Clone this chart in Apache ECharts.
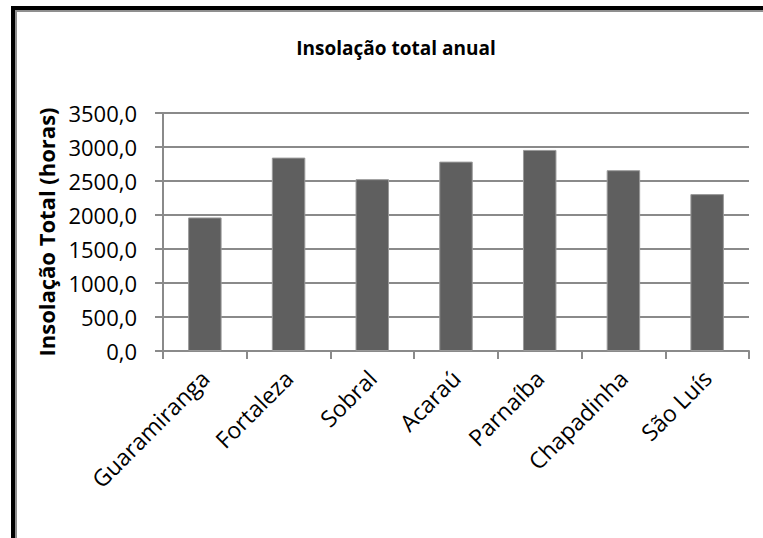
<!DOCTYPE html>
<html>
<head>
<meta charset="utf-8">
<title>Insolação total anual</title>
<script src="https://cdn.jsdelivr.net/npm/echarts@6/dist/echarts.min.js"></script>
<style>
  html, body { margin: 0; padding: 0; background: #ffffff; }
  #chart { width: 763px; height: 538px; }
</style>
</head>
<body>
<div id="chart"></div>
<script>
// Annual sunshine totals (hours) per station
const stations = ['Guaramiranga', 'Fortaleza', 'Sobral', 'Acaraú', 'Parnaíba', 'Chapadinha', 'São Luís'];
const sunshineHours = [1964, 2844, 2527, 2785, 2957, 2659, 2307];

// Value-axis ticks: 0,0 … 3500,0 every 500
const yMin = 0;
const yMax = 3500;
const yStep = 500;

const titleText = 'Insolação total anual';
const yAxisTitle = 'Insolação Total (horas)';

const FONT = '"Open Sans", "Noto Sans", sans-serif';
const GRID_GREY = '#8a8a8a';

const chart = echarts.init(document.getElementById('chart'), null, { renderer: 'svg' });

chart.setOption({
  backgroundColor: '#ffffff',
  animation: false,
  title: {
    text: titleText,
    left: 391,
    textAlign: 'center',
    top: 33,
    textStyle: { fontFamily: FONT, fontWeight: 'bold', fontSize: 19, color: '#000000' }
  },
  graphic: [
    // chart frame: grey inner edge and heavy black outer edge
    {
      type: 'rect',
      silent: true,
      shape: { x: 16, y: 11, width: 900, height: 700 },
      style: { fill: 'none', stroke: '#8f8f8f', lineWidth: 2 }
    },
    {
      type: 'rect',
      silent: true,
      shape: { x: 13, y: 8, width: 900, height: 700 },
      style: { fill: 'none', stroke: '#000000', lineWidth: 4 }
    }
  ],
  grid: { left: 163, right: 14, top: 113, bottom: 187 },
  xAxis: {
    type: 'category',
    data: stations,
    boundaryGap: true,
    axisLine: { show: true, lineStyle: { color: GRID_GREY, width: 2 } },
    axisTick: { show: true, length: 8, lineStyle: { color: GRID_GREY, width: 2 } },
    axisLabel: {
      rotate: 45,
      margin: 23,
      interval: 0,
      fontFamily: FONT,
      fontSize: 23,
      color: '#000000'
    }
  },
  yAxis: {
    type: 'value',
    min: yMin,
    max: yMax,
    interval: yStep,
    name: yAxisTitle,
    nameLocation: 'middle',
    nameRotate: 90,
    nameGap: 106,
    nameTextStyle: { fontFamily: FONT, fontWeight: 'bold', fontSize: 22, color: '#000000' },
    axisLine: { show: true, lineStyle: { color: GRID_GREY, width: 2 } },
    axisTick: { show: true, length: 8, lineStyle: { color: GRID_GREY, width: 2 } },
    splitLine: { show: true, lineStyle: { color: GRID_GREY, width: 2 } },
    axisLabel: {
      margin: 26,
      fontFamily: FONT,
      fontSize: 22,
      color: '#000000',
      formatter: v => v.toFixed(1).replace('.', ',')
    }
  },
  series: [{
    type: 'bar',
    data: sunshineHours,
    barCategoryGap: '60%',
    itemStyle: { color: '#5f5f5f', borderColor: '#9a9a9a', borderWidth: 1 }
  }]
});
</script>
</body>
</html>
